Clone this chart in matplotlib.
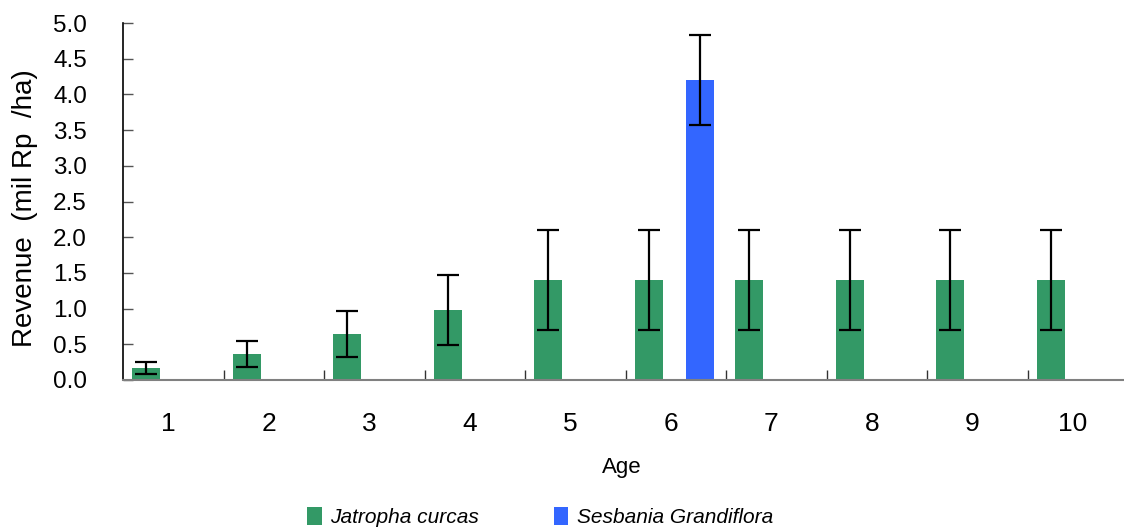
import matplotlib
matplotlib.use("Agg")
import matplotlib.pyplot as plt
import numpy as np
from matplotlib.patches import Patch

ages = ["1", "2", "3", "4", "5", "6", "7", "8", "9", "10"]
jatropha = [0.17, 0.36, 0.64, 0.98, 1.40, 1.40, 1.40, 1.40, 1.40, 1.40]
jatropha_err = [0.085, 0.18, 0.32, 0.49, 0.70, 0.70, 0.70, 0.70, 0.70, 0.70]
sesbania_age = ["6"]
sesbania = [4.20]
sesbania_err = [0.63]

series_names = ["Jatropha curcas", "Sesbania Grandiflora"]
colors = ["#339966", "#3366FF"]

W, H = 1124, 531
fig = plt.figure(figsize=(W / 100, H / 100), dpi=100)
left, right, top, bottom = 123, 1128, 23, 380
ax = fig.add_axes([left / W, 1 - bottom / H, (right - left) / W, (bottom - top) / H])

x = np.arange(len(ages))
width = 0.28
ax.bar(x - 0.27, jatropha, width, color=colors[0], zorder=2)
ax.errorbar(x - 0.27, jatropha, yerr=jatropha_err, fmt="none", ecolor="black",
            elinewidth=1.6, capsize=8, capthick=1.6, zorder=3)
xs = np.array([ages.index(a) for a in sesbania_age])
ax.bar(xs + 0.24, sesbania, width, color=colors[1], zorder=2)
ax.errorbar(xs + 0.24, sesbania, yerr=sesbania_err, fmt="none", ecolor="black",
            elinewidth=1.6, capsize=8, capthick=1.6, zorder=3)

ax.set_xlim(-0.5, len(ages) - 0.5)
ax.set_ylim(0, 5.0)
ax.set_yticks(np.arange(0, 5.01, 0.5))
ax.set_yticklabels([f"{v:.1f}" for v in np.arange(0, 5.01, 0.5)],
                   fontfamily="Liberation Sans", fontsize=17.5)
ax.tick_params(axis="y", direction="in", length=7.2, width=1, color="#555555", pad=26)

ax.set_xticks(np.arange(0.5, len(ages) - 0.5, 1))
ax.set_xticklabels([])
ax.tick_params(axis="x", which="major", direction="in", length=7.2, width=1, color="#333333")
ax.set_xticks(x - 0.05, minor=True)
ax.set_xticklabels(ages, minor=True, fontfamily="Liberation Sans", fontsize=19)
ax.tick_params(axis="x", which="minor", length=0, pad=23)

for s in ["top", "right"]:
    ax.spines[s].set_visible(False)
ax.spines["left"].set_color("black")
ax.spines["left"].set_linewidth(1.2)
ax.spines["bottom"].set_color("#808080")
ax.spines["bottom"].set_linewidth(1.5)

ax.set_xlabel("Age", fontfamily="Liberation Sans", fontsize=16)
ax.xaxis.set_label_coords((622 - left) / (right - left), (bottom - 468) / (bottom - top))
ax.xaxis.label.set_va("center")
ax.set_ylabel("Revenue  (mil Rp  /ha)", fontfamily="Liberation Sans", fontsize=20)
ax.yaxis.label.set_va("center")
ax.yaxis.set_label_coords((25 - left) / (right - left), (bottom - 208) / (bottom - top))

handles = [Patch(facecolor=c, edgecolor="none") for c in colors]
fig.legend(handles, series_names, loc="center", bbox_to_anchor=(540 / W, 1 - 517 / H),
           ncol=2, frameon=False, handlelength=0.7, handleheight=0.95,
           handletextpad=0.4, columnspacing=3.6,
           prop={"family": "Liberation Sans", "style": "italic", "size": 15})

fig.savefig("out.png", dpi=100)
